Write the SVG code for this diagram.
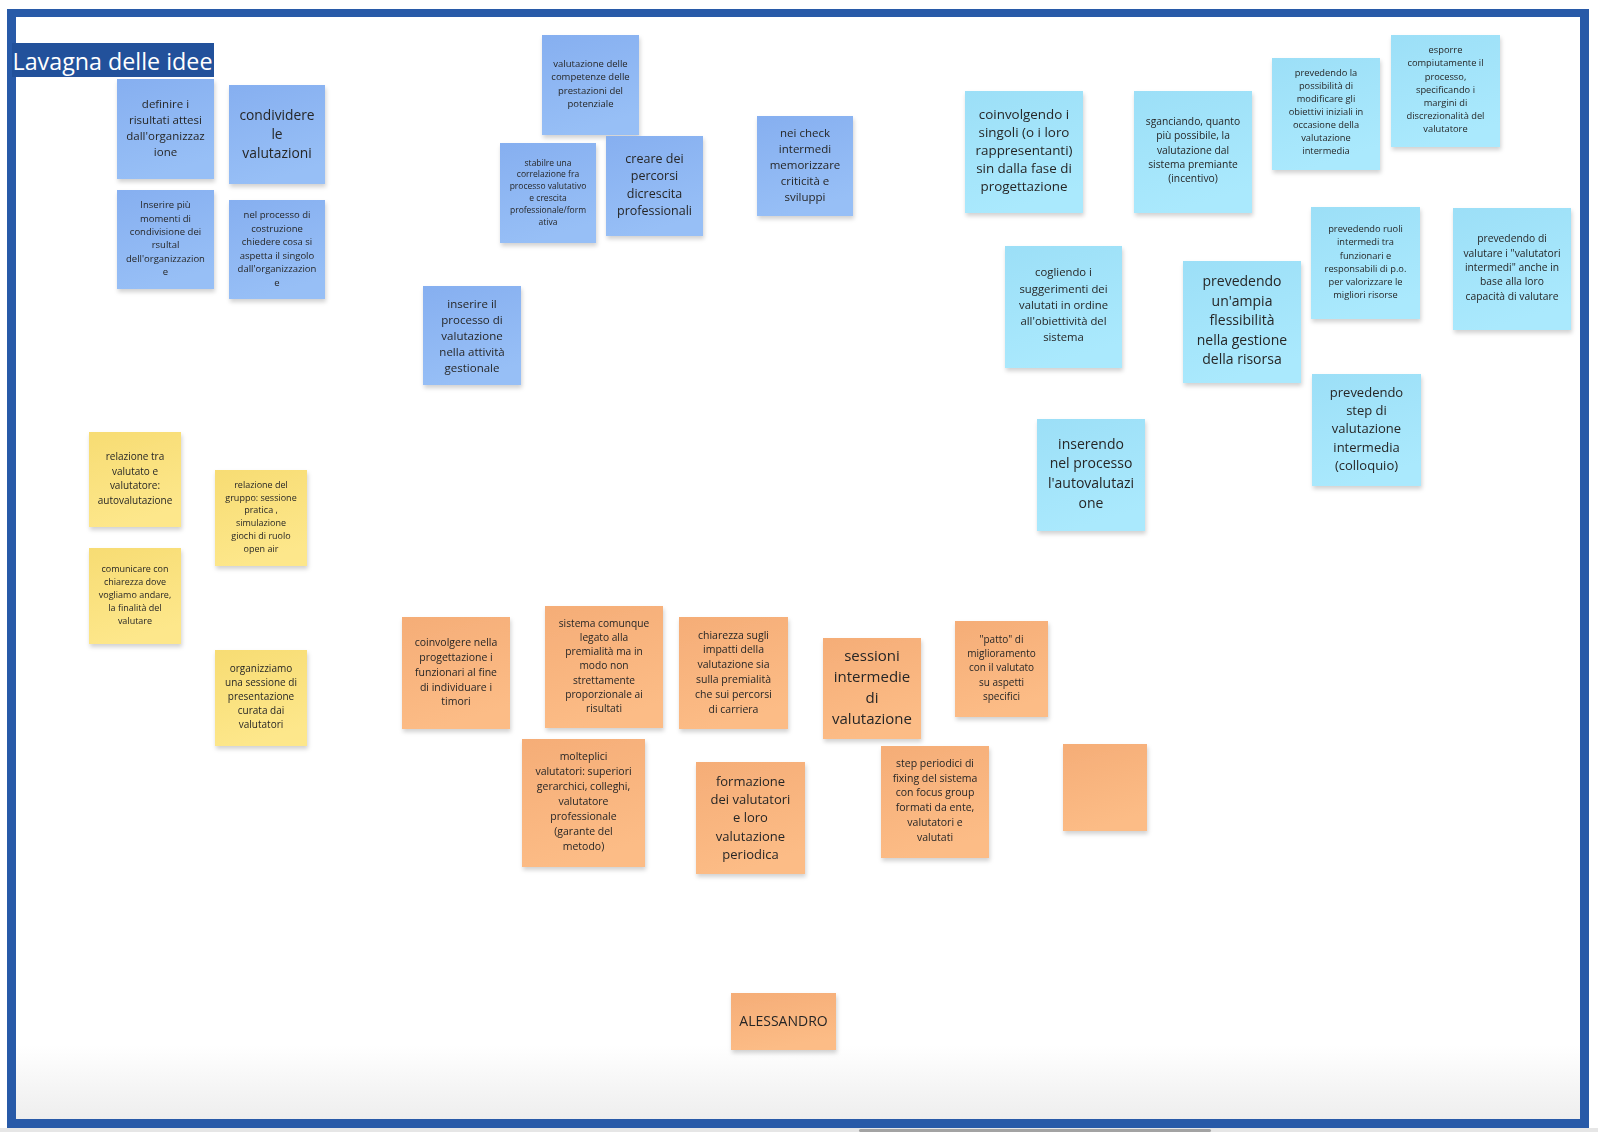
<svg xmlns="http://www.w3.org/2000/svg" width="1598" height="1132" viewBox="0 0 1598 1132">
<style>
.t{font-family:"Open Sans","Liberation Sans",sans-serif;fill:#262626;text-anchor:middle}
.n{filter:url(#sh)}
.b{fill:url(#gb)}
.c{fill:url(#gc)}
.y{fill:url(#gy)}
.o{fill:url(#go)}
</style>
<defs>
<filter id="sh" x="-10%" y="-10%" width="125%" height="130%">
<feDropShadow dx="1" dy="3" stdDeviation="2" flood-color="#000" flood-opacity="0.18"/>
</filter>
<linearGradient id="gb" x1="0" y1="0" x2="0.3" y2="1"><stop offset="0" stop-color="#86aff0"/><stop offset="1" stop-color="#97bff6"/></linearGradient>
<linearGradient id="gc" x1="0" y1="0" x2="0.3" y2="1"><stop offset="0" stop-color="#9cdff7"/><stop offset="1" stop-color="#aae9fd"/></linearGradient>
<linearGradient id="gy" x1="0" y1="0" x2="0.3" y2="1"><stop offset="0" stop-color="#f7dc73"/><stop offset="1" stop-color="#fde78b"/></linearGradient>
<linearGradient id="go" x1="0" y1="0" x2="0.3" y2="1"><stop offset="0" stop-color="#f5ad77"/><stop offset="1" stop-color="#fcbc86"/></linearGradient>
<linearGradient id="gbot" x1="0" y1="0" x2="0" y2="1"><stop offset="0" stop-color="#ffffff"/><stop offset="1" stop-color="#eeeeee"/></linearGradient>
</defs>
<rect x="0" y="0" width="1598" height="1132" fill="#ffffff"/>
<rect x="16" y="1045" width="1564" height="74" fill="url(#gbot)"/>
<rect x="0" y="1128" width="1598" height="4" fill="#e6e6e6"/>
<rect x="859" y="1129" width="352" height="3" rx="1.5" fill="#a3a3a3"/>
<path d="M7 9H1589V1128H7Z M16 17V1119H1580V17Z" fill="#285aa8" fill-rule="evenodd"/>
<g id="title">
<rect x="12" y="43" width="202" height="34" fill="#22519b"/>
<text x="12.5" y="69.5" font-family="Open Sans, Liberation Sans, sans-serif" font-size="23.5" fill="#ffffff" textLength="200" lengthAdjust="spacingAndGlyphs">Lavagna delle idee</text>
</g>
<g id="connectors"></g>

<g id="n1" class="n"><rect class="b" x="117" y="79" width="97" height="100"/>
<text class="t" font-size="11.5"><tspan x="165.5" y="107.5">definire i</tspan><tspan x="165.5" dy="16">risultati attesi</tspan><tspan x="165.5" dy="16">dall'organizzaz</tspan><tspan x="165.5" dy="16">ione</tspan></text></g>
<g id="n2" class="n"><rect class="b" x="229" y="85" width="96" height="99"/>
<text class="t" font-size="13.8"><tspan x="277" y="120.3">condividere</tspan><tspan x="277" dy="19">le</tspan><tspan x="277" dy="19">valutazioni</tspan></text></g>
<g id="n3" class="n"><rect class="b" x="117" y="190" width="97" height="99"/>
<text class="t" font-size="9.5"><tspan x="165.5" y="208.2">Inserire più</tspan><tspan x="165.5" dy="13.4">momenti di</tspan><tspan x="165.5" dy="13.4">condivisione dei</tspan><tspan x="165.5" dy="13.4">rsultal</tspan><tspan x="165.5" dy="13.4">dell'organizzazion</tspan><tspan x="165.5" dy="13.4">e</tspan></text></g>
<g id="n4" class="n"><rect class="b" x="229" y="200" width="96" height="99"/>
<text class="t" font-size="9.5"><tspan x="277" y="218.2">nel processo di</tspan><tspan x="277" dy="13.5">costruzione</tspan><tspan x="277" dy="13.5">chiedere cosa si</tspan><tspan x="277" dy="13.5">aspetta il singolo</tspan><tspan x="277" dy="13.5">dall'organizzazion</tspan><tspan x="277" dy="13.5">e</tspan></text></g>
<g id="n5" class="n"><rect class="b" x="542" y="35" width="97" height="100"/>
<text class="t" font-size="9.5"><tspan x="590.5" y="66.5">valutazione delle</tspan><tspan x="590.5" dy="13.5">competenze delle</tspan><tspan x="590.5" dy="13.5">prestazioni del</tspan><tspan x="590.5" dy="13.5">potenziale</tspan></text></g>
<g id="n6" class="n"><rect class="b" x="500" y="143" width="96" height="100"/>
<text class="t" font-size="8.5"><tspan x="548" y="165.5">stabilre una</tspan><tspan x="548" dy="11.8">correlazione fra</tspan><tspan x="548" dy="11.8">processo valutativo</tspan><tspan x="548" dy="11.8">e crescita</tspan><tspan x="548" dy="11.8">professionale/form</tspan><tspan x="548" dy="11.8">ativa</tspan></text></g>
<g id="n7" class="n"><rect class="b" x="606" y="136" width="97" height="100"/>
<text class="t" font-size="12.5"><tspan x="654.5" y="162.5">creare dei</tspan><tspan x="654.5" dy="17.5">percorsi</tspan><tspan x="654.5" dy="17.5">dicrescita</tspan><tspan x="654.5" dy="17.5">professionali</tspan></text></g>
<g id="n8" class="n"><rect class="b" x="757" y="116" width="96" height="100"/>
<text class="t" font-size="11.5"><tspan x="805" y="137.1">nei check</tspan><tspan x="805" dy="16">intermedi</tspan><tspan x="805" dy="16">memorizzare</tspan><tspan x="805" dy="16">criticità e</tspan><tspan x="805" dy="16">sviluppi</tspan></text></g>
<g id="n9" class="n"><rect class="b" x="423" y="286" width="98" height="99"/>
<text class="t" font-size="11.5"><tspan x="472" y="307.5">inserire il</tspan><tspan x="472" dy="16">processo di</tspan><tspan x="472" dy="16">valutazione</tspan><tspan x="472" dy="16">nella attività</tspan><tspan x="472" dy="16">gestionale</tspan></text></g>

<g id="n10" class="n"><rect class="c" x="965" y="91" width="118" height="122"/>
<text class="t" font-size="13.4"><tspan x="1024" y="118.7">coinvolgendo i</tspan><tspan x="1024" dy="18">singoli (o i loro</tspan><tspan x="1024" dy="18">rappresentanti)</tspan><tspan x="1024" dy="18">sin dalla fase di</tspan><tspan x="1024" dy="18">progettazione</tspan></text></g>
<g id="n11" class="n"><rect class="c" x="1134" y="91" width="118" height="122"/>
<text class="t" font-size="10.3"><tspan x="1193" y="125">sganciando, quanto</tspan><tspan x="1193" dy="14.3">più possibile, la</tspan><tspan x="1193" dy="14.3">valutazione dal</tspan><tspan x="1193" dy="14.3">sistema premiante</tspan><tspan x="1193" dy="14.3">(incentivo)</tspan></text></g>
<g id="n12" class="n"><rect class="c" x="1272" y="58" width="108" height="112"/>
<text class="t" font-size="9.3"><tspan x="1326" y="76.4">prevedendo la</tspan><tspan x="1326" dy="13">possibilità di</tspan><tspan x="1326" dy="13">modificare gli</tspan><tspan x="1326" dy="13">obiettivi iniziali in</tspan><tspan x="1326" dy="13">occasione della</tspan><tspan x="1326" dy="13">valutazione</tspan><tspan x="1326" dy="13">intermedia</tspan></text></g>
<g id="n13" class="n"><rect class="c" x="1391" y="35" width="109" height="112"/>
<text class="t" font-size="9.3"><tspan x="1445.5" y="53.1">esporre</tspan><tspan x="1445.5" dy="13.2">compiutamente il</tspan><tspan x="1445.5" dy="13.2">processo,</tspan><tspan x="1445.5" dy="13.2">specificando i</tspan><tspan x="1445.5" dy="13.2">margini di</tspan><tspan x="1445.5" dy="13.2">discrezionalità del</tspan><tspan x="1445.5" dy="13.2">valutatore</tspan></text></g>
<g id="n14" class="n"><rect class="c" x="1005" y="246" width="117" height="122"/>
<text class="t" font-size="11.3"><tspan x="1063.5" y="276.4">cogliendo i</tspan><tspan x="1063.5" dy="16.2">suggerimenti dei</tspan><tspan x="1063.5" dy="16.2">valutati in ordine</tspan><tspan x="1063.5" dy="16.2">all'obiettività del</tspan><tspan x="1063.5" dy="16.2">sistema</tspan></text></g>
<g id="n15" class="n"><rect class="c" x="1183" y="261" width="118" height="122"/>
<text class="t" font-size="14"><tspan x="1242" y="286.3">prevedendo</tspan><tspan x="1242" dy="19.4">un'ampia</tspan><tspan x="1242" dy="19.4">flessibilità</tspan><tspan x="1242" dy="19.4">nella gestione</tspan><tspan x="1242" dy="19.4">della risorsa</tspan></text></g>
<g id="n16" class="n"><rect class="c" x="1037" y="419" width="108" height="112"/>
<text class="t" font-size="14"><tspan x="1091" y="448.6">inserendo</tspan><tspan x="1091" dy="19.8">nel processo</tspan><tspan x="1091" dy="19.8">l'autovalutazi</tspan><tspan x="1091" dy="19.8">one</tspan></text></g>
<g id="n17" class="n"><rect class="c" x="1311" y="207" width="109" height="112"/>
<text class="t" font-size="9.3"><tspan x="1365.5" y="232.1">prevedendo ruoli</tspan><tspan x="1365.5" dy="13.2">intermedi tra</tspan><tspan x="1365.5" dy="13.2">funzionari e</tspan><tspan x="1365.5" dy="13.2">responsabili di p.o.</tspan><tspan x="1365.5" dy="13.2">per valorizzare le</tspan><tspan x="1365.5" dy="13.2">migliori risorse</tspan></text></g>
<g id="n18" class="n"><rect class="c" x="1453" y="208" width="118" height="122"/>
<text class="t" font-size="10.3"><tspan x="1512" y="242.4">prevedendo di</tspan><tspan x="1512" dy="14.3">valutare i "valutatori</tspan><tspan x="1512" dy="14.3">intermedi" anche in</tspan><tspan x="1512" dy="14.3">base alla loro</tspan><tspan x="1512" dy="14.3">capacità di valutare</tspan></text></g>
<g id="n19" class="n"><rect class="c" x="1312" y="374" width="109" height="112"/>
<text class="t" font-size="13"><tspan x="1366.5" y="397">prevedendo</tspan><tspan x="1366.5" dy="18.2">step di</tspan><tspan x="1366.5" dy="18.2">valutazione</tspan><tspan x="1366.5" dy="18.2">intermedia</tspan><tspan x="1366.5" dy="18.2">(colloquio)</tspan></text></g>

<g id="n20" class="n"><rect class="y" x="89" y="432" width="92" height="95"/>
<text class="t" font-size="10"><tspan x="135" y="460.3">relazione tra</tspan><tspan x="135" dy="14.4">valutato e</tspan><tspan x="135" dy="14.4">valutatore:</tspan><tspan x="135" dy="14.4">autovalutazione</tspan></text></g>
<g id="n21" class="n"><rect class="y" x="215" y="470" width="92" height="96"/>
<text class="t" font-size="9"><tspan x="261" y="487.7">relazione del</tspan><tspan x="261" dy="12.8">gruppo: sessione</tspan><tspan x="261" dy="12.8">pratica ,</tspan><tspan x="261" dy="12.8">simulazione</tspan><tspan x="261" dy="12.8">giochi di ruolo</tspan><tspan x="261" dy="12.8">open air</tspan></text></g>
<g id="n22" class="n"><rect class="y" x="89" y="548" width="92" height="96"/>
<text class="t" font-size="9"><tspan x="135" y="572.3">comunicare con</tspan><tspan x="135" dy="12.9">chiarezza dove</tspan><tspan x="135" dy="12.9">vogliamo andare,</tspan><tspan x="135" dy="12.9">la finalità del</tspan><tspan x="135" dy="12.9">valutare</tspan></text></g>
<g id="n23" class="n"><rect class="y" x="215" y="650" width="92" height="96"/>
<text class="t" font-size="10"><tspan x="261" y="671.6">organizziamo</tspan><tspan x="261" dy="14.2">una sessione di</tspan><tspan x="261" dy="14.2">presentazione</tspan><tspan x="261" dy="14.2">curata dai</tspan><tspan x="261" dy="14.2">valutatori</tspan></text></g>

<g id="n24" class="n"><rect class="o" x="402" y="617" width="108" height="112"/>
<text class="t" font-size="10.5"><tspan x="456" y="646.2">coinvolgere nella</tspan><tspan x="456" dy="14.8">progettazione i</tspan><tspan x="456" dy="14.8">funzionari al fine</tspan><tspan x="456" dy="14.8">di individuare i</tspan><tspan x="456" dy="14.8">timori</tspan></text></g>
<g id="n25" class="n"><rect class="o" x="545" y="606" width="118" height="122"/>
<text class="t" font-size="10.2"><tspan x="604" y="626.7">sistema comunque</tspan><tspan x="604" dy="14.2">legato alla</tspan><tspan x="604" dy="14.2">premialità ma in</tspan><tspan x="604" dy="14.2">modo non</tspan><tspan x="604" dy="14.2">strettamente</tspan><tspan x="604" dy="14.2">proporzionale ai</tspan><tspan x="604" dy="14.2">risultati</tspan></text></g>
<g id="n26" class="n"><rect class="o" x="679" y="617" width="109" height="112"/>
<text class="t" font-size="10.5"><tspan x="733.5" y="638.5">chiarezza sugli</tspan><tspan x="733.5" dy="14.9">impatti della</tspan><tspan x="733.5" dy="14.9">valutazione sia</tspan><tspan x="733.5" dy="14.9">sulla premialità</tspan><tspan x="733.5" dy="14.9">che sui percorsi</tspan><tspan x="733.5" dy="14.9">di carriera</tspan></text></g>
<g id="n27" class="n"><rect class="o" x="823" y="638" width="98" height="101"/>
<text class="t" font-size="15"><tspan x="872" y="661">sessioni</tspan><tspan x="872" dy="21">intermedie</tspan><tspan x="872" dy="21">di</tspan><tspan x="872" dy="21">valutazione</tspan></text></g>
<g id="n28" class="n"><rect class="o" x="955" y="621" width="93" height="96"/>
<text class="t" font-size="10"><tspan x="1001.5" y="643">"patto" di</tspan><tspan x="1001.5" dy="14.2">miglioramento</tspan><tspan x="1001.5" dy="14.2">con il valutato</tspan><tspan x="1001.5" dy="14.2">su aspetti</tspan><tspan x="1001.5" dy="14.2">specifici</tspan></text></g>
<g id="n29" class="n"><rect class="o" x="522" y="739" width="123" height="128"/>
<text class="t" font-size="10.5"><tspan x="583.5" y="760.2">molteplici</tspan><tspan x="583.5" dy="14.9">valutatori: superiori</tspan><tspan x="583.5" dy="14.9">gerarchici, colleghi,</tspan><tspan x="583.5" dy="14.9">valutatore</tspan><tspan x="583.5" dy="14.9">professionale</tspan><tspan x="583.5" dy="14.9">(garante del</tspan><tspan x="583.5" dy="14.9">metodo)</tspan></text></g>
<g id="n30" class="n"><rect class="o" x="696" y="762" width="109" height="112"/>
<text class="t" font-size="13"><tspan x="750.5" y="786">formazione</tspan><tspan x="750.5" dy="18.2">dei valutatori</tspan><tspan x="750.5" dy="18.2">e loro</tspan><tspan x="750.5" dy="18.2">valutazione</tspan><tspan x="750.5" dy="18.2">periodica</tspan></text></g>
<g id="n31" class="n"><rect class="o" x="881" y="746" width="108" height="112"/>
<text class="t" font-size="10.5"><tspan x="935" y="766.8">step periodici di</tspan><tspan x="935" dy="14.8">fixing del sistema</tspan><tspan x="935" dy="14.8">con focus group</tspan><tspan x="935" dy="14.8">formati da ente,</tspan><tspan x="935" dy="14.8">valutatori e</tspan><tspan x="935" dy="14.8">valutati</tspan></text></g>
<g id="n32" class="n"><rect class="o" x="1063" y="744" width="84" height="87"/></g>
<g id="n33" class="n"><rect class="o" x="731" y="993" width="105" height="57"/>
<text class="t" font-size="14"><tspan x="783.5" y="1026">ALESSANDRO</tspan></text></g>
</svg>
